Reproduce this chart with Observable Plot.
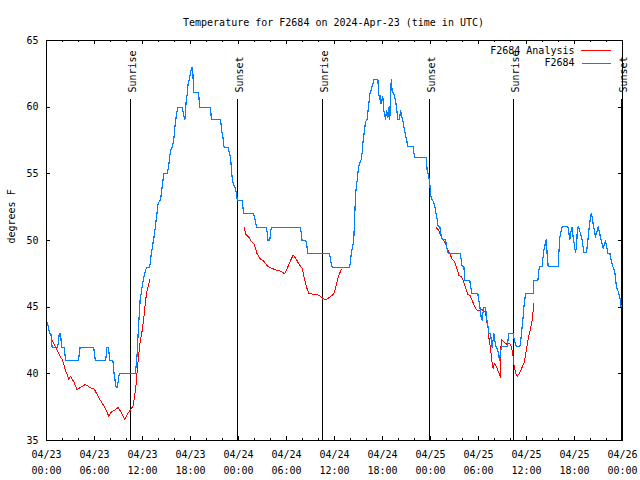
<!DOCTYPE html>
<html><head><meta charset="utf-8">
<script src="https://cdn.jsdelivr.net/npm/d3@7"></script>
<script src="https://cdn.jsdelivr.net/npm/@observablehq/plot@0.6"></script>
<style>body{margin:0;background:#fff} #chart svg{shape-rendering:crispEdges}</style>
</head><body><div id="chart"></div>
<script>
const startUTC = Date.UTC(2024, 3, 23);
const titleText = "Temperature for F2684 on 2024-Apr-23 (time in UTC)";
const yLabelText = "degrees F";
const seriesNames = ["F2684 Analysis", "F2684"];
const seriesColors = ["#ff0000", "#0080ff"];

// Observations (F2684), hours since 04/23 00:00 UTC
const obsHours = [0,0.2,0.4,0.55,0.7,1.4,1.6,1.75,1.9,2.2,2.4,4.0,4.2,5.9,6.1,7.4,7.55,7.75,7.9,8.3,8.45,8.7,8.85,9.1,11.1,11.3,11.5,11.7,11.95,12.15,12.5,12.9,13.1,13.3,13.5,13.75,13.95,14.15,14.25,14.45,14.67,15.1,15.3,15.5,15.7,15.9,16.05,16.2,16.4,16.95,17.15,17.3,17.45,17.6,17.7,17.85,18.0,18.2,18.3,18.4,19.0,19.15,20.5,20.6,21.75,21.9,22.05,22.2,22.7,22.85,23.0,23.1,23.2,23.35,23.55,23.75,23.85,24.45,24.65,25.9,26.1,26.25,27.5,27.6,27.7,27.9,28.1,31.75,31.95,32.4,32.5,32.7,35.4,35.5,35.7,37.9,38.1,38.4,38.54,38.63,38.83,38.96,39.1,39.33,39.46,39.58,39.75,39.88,40.08,40.2,40.42,40.58,40.8,40.92,41.42,41.54,41.63,41.75,41.83,42.04,42.17,42.38,42.5,42.67,42.79,42.92,43.0,43.12,43.2,43.42,43.62,43.75,43.92,44.12,44.25,44.38,44.58,44.75,45.0,45.17,45.83,46.0,47.46,47.58,47.79,47.92,48.0,48.12,48.4,48.6,48.7,48.83,48.96,49.17,49.33,49.46,49.88,50.0,50.2,51.67,51.83,51.96,52.17,52.29,52.92,53.0,53.2,53.92,54.04,54.17,54.33,54.46,54.54,54.67,54.88,55.0,55.17,55.29,55.5,55.71,55.92,56.04,56.2,56.42,56.62,56.75,56.88,57.58,57.79,58.33,58.5,58.71,59.17,59.33,59.54,59.67,59.88,60.83,60.92,61.42,61.54,61.67,61.96,62.04,62.17,62.29,62.46,62.58,62.71,63.96,64.04,64.17,64.33,64.46,65.17,65.29,65.42,65.58,65.71,65.83,66.0,66.12,66.25,66.33,66.46,66.62,66.75,66.96,67.17,67.5,67.67,67.79,67.92,68.08,68.21,68.33,68.5,68.62,68.83,68.96,69.12,69.25,69.46,69.58,69.75,69.88,70.0,70.17,70.42,70.58,70.79,71.0,71.12,71.25,71.42,71.54,71.75,71.83];
const obsTemps = [44,43.6,43,43,42,42,43,43,42,42,41,41,42,42,41,41,42,42,41,41,40,39,39,40,40,41.2,43.5,45.5,46.5,47.2,48,48,49,49.75,50.5,51.75,52.75,53,53,54,55,55,55.75,56.75,57,57.5,58.5,59.25,60,60,59.4,59.1,60.4,61,61.75,62.1,62.6,63,62.5,61.1,61.1,60,60,59.1,59.1,58.25,57.75,57,57,56.6,56.25,55.5,54.75,54.25,54,53.5,53,53,52,52,51.5,51,51,50.5,50,50,51,51,50,50,49.75,49,49,48.5,48,48,49,50,52,53.5,54.5,55.25,55.75,56.05,56.6,57.5,58.25,58.9,59.1,59.75,61,61.3,61.75,62.05,62.05,61,60.55,60.9,60.25,60.8,59.75,59.1,59.75,59.25,60,59.1,61.4,62.05,61.25,61,60.5,60,59.1,59.05,59.75,59.4,58.9,58.25,57.6,57.05,57.05,56.25,56.25,55.25,54.75,54.25,53.5,53.1,52.9,52.4,52,51.6,51.05,51,50.4,50.1,50.1,49.6,49.05,49.05,48.6,48.05,48.05,47,47,46.6,46,46,45.5,45,44.25,44,44.5,45,45,44.25,43.6,43,43,42,43,42.5,42.05,41.75,41,41.6,42.05,42.05,43,43,42.5,42.05,42.05,42.75,44,45,46,46,47,47,47.75,48.05,48.05,48.6,49.25,49.6,50.05,49,48.05,48.05,49,50.25,50.75,51.05,51.05,50.6,50.05,50.75,51,50.25,49.6,49.1,49.5,50.5,51.05,50.8,50.5,50,49.1,49.1,50,50.75,51.4,52,51.75,51.25,50.75,50.25,50.75,51.05,50.6,50.25,49.75,49.4,49.75,50,49.6,49.05,49.05,48.5,48.05,47.75,47.25,46.5,46.25,46,45.5,45];

// Analysis (F2684 Analysis); null marks a gap
const anaHours = [0.71,1.12,1.75,1.96,2.38,2.79,3.0,3.42,3.83,4.25,4.88,5.5,5.92,6.33,6.75,7.17,7.58,7.79,8.0,8.62,8.96,9.33,9.79,10.17,10.5,10.83,11.0,11.2,11.42,11.67,11.96,12.17,12.38,12.58,12.92,
  18,
  24.75,24.88,25.29,25.58,25.92,26.33,26.75,27.17,27.58,28.0,28.62,29.25,29.79,30.08,30.5,30.83,31.12,31.54,31.96,32.25,32.5,32.79,33.42,34.04,34.46,34.79,35.08,35.5,35.92,36.12,36.33,36.54,36.83,
  42,
  48.75,49.04,49.17,49.33,49.58,49.88,50.08,50.42,50.71,51.0,51.25,51.54,51.83,52.08,52.38,52.67,52.92,53.2,53.5,53.75,54.04,54.46,54.88,55.0,55.17,55.29,55.5,55.71,55.83,56.0,56.25,56.54,56.75,56.83,57.17,57.58,57.83,58.08,58.29,58.42,58.62,58.83,59.17,59.46,59.75,60.0,60.21,60.5,60.71,60.92];
const anaTemps = [42.5,42,41.25,41.1,40.25,39.6,39.8,39.4,38.8,39.0,39.2,38.95,38.9,38.45,38.0,37.6,37.1,36.8,37.1,37.3,37.5,37.1,36.55,37.05,37.3,37.6,38.25,39.25,40.75,42.25,43.25,44.25,45.5,46.25,47.1,
  null,
  50.95,50.5,50.25,49.95,49.75,49.0,48.6,48.45,48.1,47.95,47.8,47.7,47.5,47.9,48.5,48.9,48.7,48.25,47.9,47.1,46.5,46.05,45.95,45.9,45.7,45.55,45.6,45.8,46.0,46.4,46.9,47.4,47.8,
  null,
  50.95,50.75,50.55,50.3,50.05,49.8,49.4,49.0,48.6,48.45,48,47.4,47.3,47,46.5,45.95,45.9,45.5,45.1,44.8,44.75,44.8,44.6,44,43.6,42.75,41.9,40.75,40.4,40.8,40.5,40.1,39.75,42.6,42.4,42.2,42.3,42.1,41.5,40.75,40.1,39.8,40.1,40.5,40.9,41.9,42.6,43.4,44,45.25];

const sunHours = [10.5, 23.92, 34.53, 47.92, 58.43, 71.85];
const sunLabels = ["Sunrise", "Sunset", "Sunrise", "Sunset", "Sunrise", "Sunset"];

const yTicks = [35, 40, 45, 50, 55, 60, 65];
const majorHours = d3.range(0, 73, 6);
const minorHours = d3.range(0, 73, 2).filter(h => h % 6 !== 0);

const W = 640, H = 480, mL = 46, mR = 18, mT = 40, mB = 40;
const plotW = W - mL - mR, plotH = H - mT - mB;
const toDate = h => new Date(startUTC + h * 3600e3);

const obs = obsHours.map((h, i) => ({t: toDate(h), v: obsTemps[i]}));
const ana = anaHours.map((h, i) => ({t: toDate(h), v: anaTemps[i]}));
const events = sunHours.map((h, i) => ({t: toDate(h), label: sunLabels[i]}));
const majorX = majorHours.map(toDate);
const minorX = minorHours.map(toDate);
const fmtDate = d3.utcFormat("%m/%d");
const fmtTime = d3.utcFormat("%H:%M");
const lineShape = {draw(ctx, l) { ctx.moveTo(0, 0); ctx.lineTo(0, -l); }};

const chart = Plot.plot({
  width: W, height: H,
  marginLeft: mL, marginRight: mR, marginTop: mT, marginBottom: mB,
  style: {fontFamily: "DejaVu Sans Mono", fontSize: "10px", background: "#fff", color: "#000", overflow: "visible"},
  x: {type: "utc", domain: [toDate(0), toDate(72)], axis: null},
  y: {domain: [35, 65]},
  marks: [
    Plot.axisY(yTicks, {tickSize: 0, tickPadding: 8, label: null, fontSize: 10}),
    Plot.text(majorX, {x: d => d, text: d => fmtDate(d), frameAnchor: "bottom", lineAnchor: "middle", dy: 14}),
    Plot.text(majorX, {x: d => d, text: d => fmtTime(d), frameAnchor: "bottom", lineAnchor: "middle", dy: 30}),
    Plot.text([yLabelText], {frameAnchor: "left", rotate: -90, lineAnchor: "middle", dx: -35, dy: 3}),
    Plot.text([titleText], {frameAnchor: "top", lineAnchor: "middle", dy: -18, dx: -1}),
    Plot.ruleX(events, {x: "t", insetTop: 59, stroke: "#000", strokeWidth: 1}),
    Plot.text(events, {x: "t", text: "label", frameAnchor: "top", lineAnchor: "middle", rotate: -90, textAnchor: "start", dy: 52, dx: 2}),
    Plot.line(ana, {x: "t", y: "v", stroke: seriesColors[0], strokeWidth: 1}),
    Plot.line(obs, {x: "t", y: "v", stroke: seriesColors[1], strokeWidth: 1.2}),
    Plot.ruleX(majorX, {x: d => d, insetTop: plotH - 4}),
    Plot.ruleX(minorX, {x: d => d, insetTop: plotH - 2}),
    Plot.ruleX(majorX, {x: d => d, insetBottom: plotH - 4}),
    Plot.ruleX(minorX, {x: d => d, insetBottom: plotH - 2}),
    Plot.ruleY(yTicks, {y: d => d, insetRight: plotW - 4}),
    Plot.ruleY(yTicks, {y: d => d, insetLeft: plotW - 4}),
    Plot.frame({stroke: "#000"}),
    Plot.text([seriesNames[0]], {frameAnchor: "top-right", lineAnchor: "middle", textAnchor: "end", dx: -48, dy: 10}),
    Plot.text([seriesNames[1]], {frameAnchor: "top-right", lineAnchor: "middle", textAnchor: "end", dx: -48, dy: 22.5}),
    Plot.vector([0], {frameAnchor: "top-right", dx: -12, dy: 10, length: 29, rotate: -90, anchor: "start", shape: lineShape, stroke: seriesColors[0], strokeWidth: 1}),
    Plot.vector([0], {frameAnchor: "top-right", dx: -12, dy: 22.5, length: 29, rotate: -90, anchor: "start", shape: lineShape, stroke: seriesColors[1], strokeWidth: 1})
  ]
});
document.getElementById("chart").appendChild(chart);
</script>
</body></html>
